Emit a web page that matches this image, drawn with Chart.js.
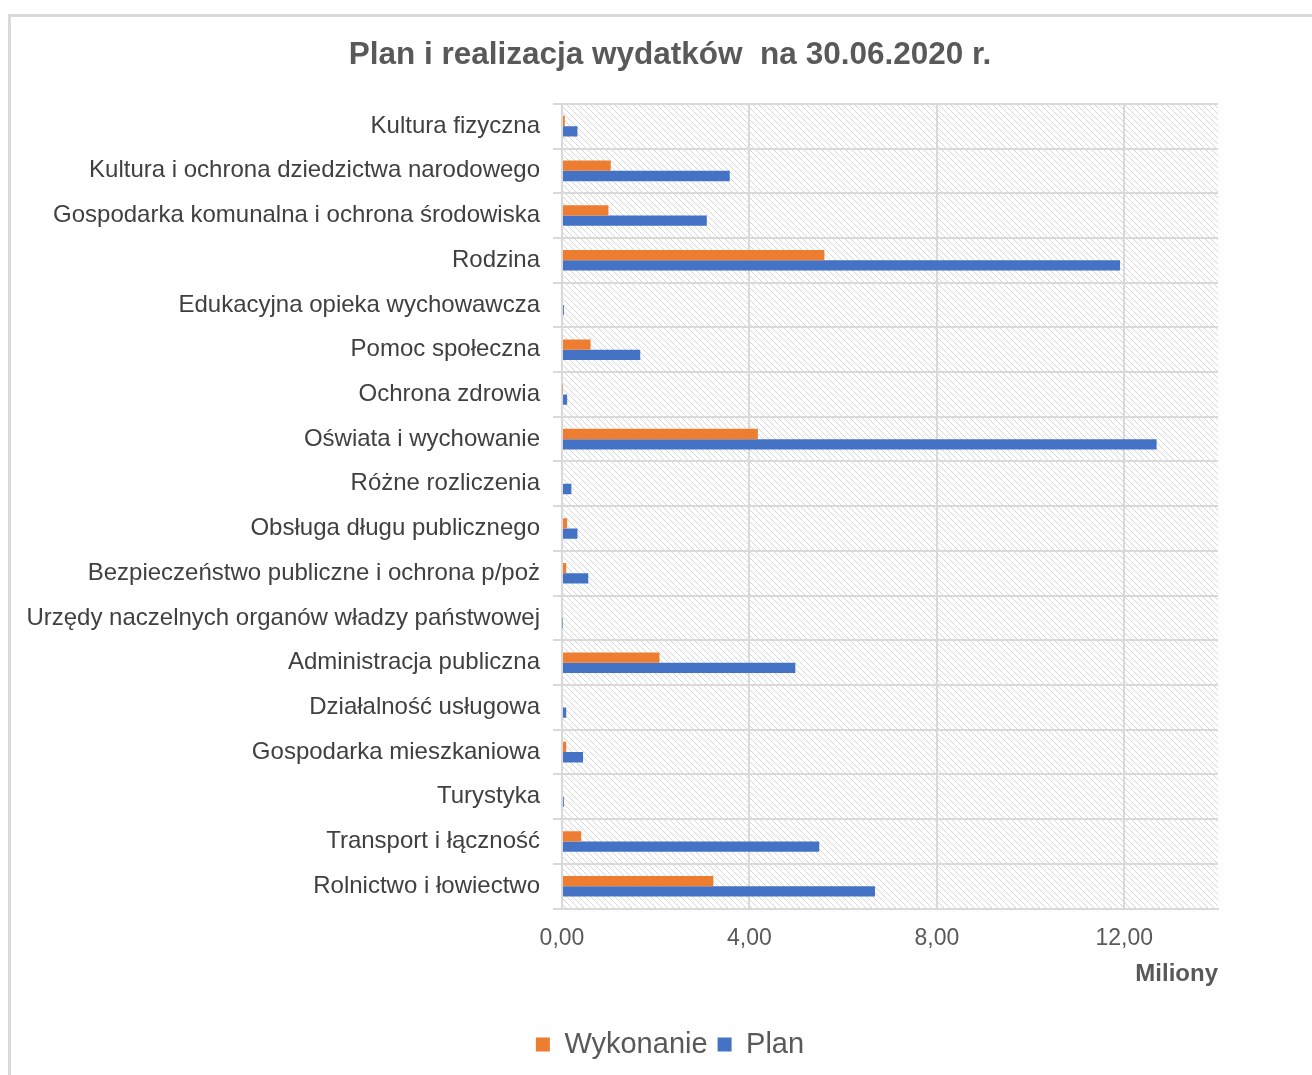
<!DOCTYPE html>
<html>
<head>
<meta charset="utf-8">
<script src="https://cdn.jsdelivr.net/npm/chart.js@4/dist/chart.umd.min.js"></script>
<style>
  body { margin: 0; background: #fff; overflow: hidden; }
  #frame { position: absolute; left: 8px; top: 14px; width: 1400px; height: 1200px;
           border-left: 3px solid #d9d9d9; border-top: 3px solid #d9d9d9; }
  #wrap { position: absolute; left: 0; top: 0; width: 1312px; height: 1075px; }
</style>
</head>
<body>
<div id="frame"></div>
<div id="wrap"><canvas id="wydatki_chart"></canvas></div>
<script>
const kategorie = [
  'Kultura fizyczna',
  'Kultura i ochrona dziedzictwa narodowego',
  'Gospodarka komunalna i ochrona środowiska',
  'Rodzina',
  'Edukacyjna opieka wychowawcza',
  'Pomoc społeczna',
  'Ochrona zdrowia',
  'Oświata i wychowanie',
  'Różne rozliczenia',
  'Obsługa długu publicznego',
  'Bezpieczeństwo publiczne i ochrona p/poż',
  'Urzędy naczelnych organów władzy państwowej',
  'Administracja publiczna',
  'Działalność usługowa',
  'Gospodarka mieszkaniowa',
  'Turystyka',
  'Transport i łączność',
  'Rolnictwo i łowiectwo'
];

// miliony zł
const wykonanie = [0.06, 1.04, 0.99, 5.60, 0.00, 0.61, 0.01, 4.18, 0.00, 0.11, 0.09, 0.00, 2.08, 0.00, 0.09, 0.00, 0.41, 3.23];
const plan      = [0.33, 3.58, 3.09, 11.91, 0.04, 1.67, 0.11, 12.69, 0.20, 0.33, 0.56, 0.01, 4.98, 0.09, 0.45, 0.04, 5.49, 6.68];

const osX_ticki = [0, 4, 8, 12];

const font = '"Liberation Sans", Arial, sans-serif';

// kreskowane tło obszaru wykresu
function makeHatch() {
  const c = document.createElement('canvas');
  c.width = 6; c.height = 6;
  const g = c.getContext('2d');
  g.fillStyle = '#ffffff';
  g.fillRect(0, 0, 6, 6);
  g.strokeStyle = '#d6d6d6';
  g.lineWidth = 1;
  g.beginPath();
  g.moveTo(-1, -1); g.lineTo(7, 7);
  g.moveTo(-4, 2); g.lineTo(4, 10);
  g.moveTo(2, -4); g.lineTo(10, 4);
  g.stroke();
  return g.createPattern(c, 'repeat');
}

const hatchBg = {
  id: 'hatchBg',
  beforeDraw(chart) {
    const {ctx, chartArea: a} = chart;
    ctx.save();
    ctx.fillStyle = makeHatch();
    ctx.fillRect(a.left, a.top, a.right - a.left, a.bottom - a.top);
    ctx.restore();
  }
};

const wydatki_chart = document.getElementById('wydatki_chart');

new Chart(wydatki_chart, {
  type: 'bar',
  data: {
    labels: kategorie,
    datasets: [
      {
        label: 'Wykonanie',
        data: wykonanie,
        backgroundColor: '#ED7D31',
        borderWidth: 0,
        barPercentage: 1,
        categoryPercentage: 0.46
      },
      {
        label: 'Plan',
        data: plan,
        backgroundColor: '#4472C4',
        borderWidth: 0,
        barPercentage: 1,
        categoryPercentage: 0.46
      }
    ]
  },
  options: {
    responsive: true,
    maintainAspectRatio: false,
    animation: false,
    indexAxis: 'y',
    layout: {
      padding: { left: 28, right: 0, top: 0, bottom: 6 }
    },
    scales: {
      x: {
        min: 0,
        max: 14,
        afterBuildTicks: axis => {
          axis.ticks = osX_ticki.map(v => ({ value: v }));
        },
        grid: { color: '#d9d9d9', lineWidth: 2, drawTicks: false },
        border: { color: '#d9d9d9', width: 2 },
        ticks: {
          padding: 16,
          color: '#595959',
          font: { family: font, size: 23 },
          callback: v => v.toFixed(2).replace('.', ',')
        },
        title: {
          display: true,
          text: 'Miliony',
          align: 'end',
          color: '#595959',
          font: { family: font, size: 24, weight: 'bold' },
          padding: { top: -8, bottom: 31 }
        }
      },
      y: {
        afterFit: s => { s.width = 534; },
        grid: { color: '#d9d9d9', lineWidth: 2, tickLength: 9 },
        border: { color: '#d9d9d9', width: 2 },
        ticks: {
          padding: 13,
          color: '#404040',
          font: { family: font, size: 24 }
        }
      },
      prawa: {
        type: 'linear',
        axis: 'y',
        position: 'right',
        grid: { display: false },
        border: { display: false },
        ticks: { display: false },
        afterFit: s => { s.width = 94; }
      }
    },
    plugins: {
      title: {
        display: true,
        text: 'Plan i realizacja wydatków  na 30.06.2020 r.',
        color: '#595959',
        font: { family: font, size: 31.5, weight: 'bold' },
        padding: { top: 36, bottom: 30 }
      },
      legend: {
        position: 'bottom',
        labels: {
          boxWidth: 14,
          boxHeight: 14,
          color: '#595959',
          font: { family: font, size: 29 }
        }
      },
      tooltip: { enabled: false }
    }
  },
  plugins: [hatchBg]
});
</script>
</body>
</html>
